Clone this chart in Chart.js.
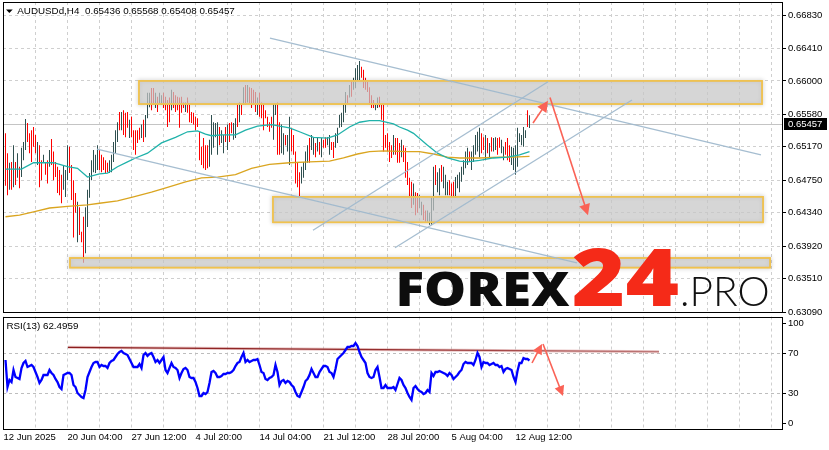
<!DOCTYPE html>
<html><head><meta charset="utf-8">
<script src="https://cdn.jsdelivr.net/npm/chart.js@4.4.1/dist/chart.umd.min.js"></script>
<style>
html,body{margin:0;padding:0;background:#fff;}
#wrap{position:relative;width:829px;height:450px;overflow:hidden;background:#fff;}
#main{position:absolute;left:0;top:0;}
#rsi{position:absolute;left:0;top:314px;}
</style></head><body>
<div id="wrap"><canvas id="main" width="829" height="316"></canvas><canvas id="rsi" width="829" height="136"></canvas></div>
<script>
// ---------------- data ----------------
const symbolName = 'AUDUSDd,H4';
const lastOHLC = [0.65436, 0.65568, 0.65408, 0.65457];
const lastPrice = 0.65457;
const rsiName = 'RSI(13)';
const rsiLast = 62.4959;

const priceTicks = [0.66830,0.66410,0.66000,0.65580,0.65170,0.64750,0.64340,0.63920,0.63510,0.63090];
const rsiTicks = [100,70,30,0];
const rsiLevels = [70,30];
const timeLabels = ['12 Jun 2025','20 Jun 04:00','27 Jun 12:00','4 Jul 20:00','14 Jul 04:00','21 Jul 12:00','28 Jul 20:00','5 Aug 04:00','12 Aug 12:00'];
const timeLabelIdx = [-1,31,63,95,127,159,191,223,255];
const gridIdx = [-1,15,31,47,63,79,95,111,127,143,159,175,191,207,223,239,255,271,287,303,319,335,351,367,383];

const barHigh = [
0.6534,0.6509,0.6497,0.6498,0.6519,0.6498,0.6509,0.6492,0.6516,0.6523,
0.6552,0.6547,0.6534,0.6538,0.6542,0.6532,0.6523,0.6519,0.6500,0.6507,
0.6497,0.6500,0.6513,0.6527,0.6511,0.6498,0.6492,0.6488,0.6482,0.6494,
0.6488,0.6519,0.6517,0.6494,0.6475,0.6459,0.6448,0.6441,0.6410,0.6429,
0.6441,0.6463,0.6484,0.6500,0.6513,0.6507,0.6519,0.6513,0.6507,0.6504,
0.6500,0.6497,0.6500,0.6507,0.6523,0.6538,0.6548,0.6561,0.6561,0.6563,
0.6560,0.6561,0.6551,0.6555,0.6538,0.6538,0.6538,0.6541,0.6545,0.6551,
0.6557,0.6585,0.6585,0.6591,0.6591,0.6585,0.6580,0.6585,0.6582,0.6585,
0.6580,0.6576,0.6579,0.6589,0.6586,0.6582,0.6580,0.6579,0.6580,0.6573,
0.6573,0.6579,0.6572,0.6561,0.6560,0.6555,0.6553,0.6536,0.6517,0.6528,
0.6519,0.6519,0.6526,0.6557,0.6548,0.6547,0.6548,0.6542,0.6538,0.6532,
0.6542,0.6545,0.6547,0.6548,0.6547,0.6553,0.6570,0.6573,0.6570,0.6592,
0.6595,0.6595,0.6592,0.6591,0.6589,0.6586,0.6579,0.6585,0.6573,0.6570,
0.6563,0.6555,0.6548,0.6555,0.6571,0.6572,0.6573,0.6548,0.6545,0.6534,
0.6532,0.6532,0.6555,0.6541,0.6532,0.6511,0.6498,0.6485,0.6492,0.6498,
0.6511,0.6519,0.6528,0.6532,0.6529,0.6522,0.6528,0.6523,0.6528,0.6526,
0.6529,0.6529,0.6532,0.6523,0.6523,0.6534,0.6541,0.6557,0.6560,0.6570,
0.6586,0.6582,0.6595,0.6601,0.6604,0.6616,0.6620,0.6625,0.6618,0.6614,
0.6604,0.6599,0.6592,0.6582,0.6576,0.6572,0.6579,0.6580,0.6570,0.6570,
0.6532,0.6534,0.6523,0.6519,0.6532,0.6528,0.6528,0.6522,0.6526,0.6519,
0.6516,0.6498,0.6478,0.6473,0.6471,0.6460,0.6459,0.6456,0.6448,0.6444,
0.6437,0.6437,0.6434,0.6453,0.6492,0.6494,0.6485,0.6490,0.6494,0.6492,
0.6482,0.6473,0.6475,0.6471,0.6473,0.6479,0.6482,0.6485,0.6492,0.6500,
0.6511,0.6516,0.6511,0.6511,0.6519,0.6532,0.6536,0.6541,0.6534,0.6529,
0.6532,0.6528,0.6522,0.6529,0.6528,0.6529,0.6528,0.6529,0.6526,0.6517,
0.6523,0.6528,0.6519,0.6517,0.6516,0.6519,0.6541,0.6534,0.6532,0.6542,
0.6538,0.6563,0.65568];
const barLow = [
0.6468,0.6456,0.6463,0.6463,0.6466,0.6469,0.6478,0.6465,0.6479,0.6500,
0.6513,0.6523,0.6509,0.6498,0.6517,0.6509,0.6494,0.6466,0.6475,0.6497,
0.6482,0.6471,0.6492,0.6494,0.6475,0.6479,0.6459,0.6456,0.6446,0.6463,
0.6454,0.6475,0.6484,0.6450,0.6403,0.6434,0.6397,0.6406,0.6397,0.6371,
0.6383,0.6416,0.6453,0.6475,0.6485,0.6484,0.6488,0.6488,0.6485,0.6488,
0.6484,0.6485,0.6484,0.6485,0.6498,0.6509,0.6523,0.6538,0.6538,0.6532,
0.6529,0.6541,0.6528,0.6529,0.6513,0.6507,0.6522,0.6526,0.6528,0.6523,
0.6529,0.6553,0.6567,0.6563,0.6570,0.6566,0.6561,0.6572,0.6570,0.6566,
0.6563,0.6542,0.6548,0.6563,0.6566,0.6561,0.6563,0.6541,0.6560,0.6566,
0.6561,0.6560,0.6548,0.6547,0.6545,0.6538,0.6542,0.6500,0.6494,0.6490,
0.6488,0.6490,0.6492,0.6507,0.6516,0.6529,0.6507,0.6519,0.6522,0.6509,
0.6523,0.6513,0.6523,0.6534,0.6526,0.6528,0.6542,0.6548,0.6557,0.6570,
0.6570,0.6573,0.6572,0.6566,0.6570,0.6561,0.6557,0.6555,0.6553,0.6538,
0.6553,0.6542,0.6536,0.6541,0.6526,0.6557,0.6507,0.6507,0.6509,0.6507,
0.6519,0.6511,0.6494,0.6511,0.6507,0.6471,0.6466,0.6454,0.6471,0.6478,
0.6488,0.6497,0.6497,0.6513,0.6507,0.6504,0.6511,0.6507,0.6504,0.6516,
0.6516,0.6519,0.6507,0.6513,0.6503,0.6516,0.6522,0.6541,0.6542,0.6548,
0.6560,0.6572,0.6579,0.6580,0.6589,0.6591,0.6601,0.6601,0.6604,0.6591,
0.6589,0.6586,0.6570,0.6566,0.6566,0.6563,0.6566,0.6567,0.6551,0.6511,
0.6516,0.6511,0.6498,0.6503,0.6507,0.6507,0.6497,0.6497,0.6504,0.6498,
0.6478,0.6469,0.6453,0.6440,0.6444,0.6431,0.6434,0.6440,0.6431,0.6425,
0.6421,0.6422,0.6419,0.6419,0.6437,0.6469,0.6460,0.6456,0.6473,0.6465,
0.6456,0.6456,0.6456,0.6453,0.6453,0.6453,0.6465,0.6460,0.6473,0.6482,
0.6490,0.6494,0.6498,0.6488,0.6498,0.6507,0.6511,0.6504,0.6509,0.6513,
0.6500,0.6509,0.6503,0.6511,0.6511,0.6513,0.6507,0.6516,0.6509,0.6500,
0.6507,0.6500,0.6498,0.6494,0.6488,0.6482,0.6492,0.6523,0.6519,0.6517,
0.6528,0.6542,0.65408];
const barUp = [
0,0,1,0,1,0,1,0,1,1, 1,0,0,0,0,0,1,0,0,1, 0,0,1,0,0,0,0,0,0,1, 1,1,0,0,0,0,1,0,0,0,
1,1,1,1,1,1,1,0,0,0, 0,0,1,1,1,1,1,0,1,0, 0,0,1,0,0,0,0,0,1,0, 1,1,1,0,0,1,0,1,1,0,
0,0,0,1,0,0,0,0,0,0, 1,0,0,0,0,0,0,0,0,0, 0,0,1,1,1,1,1,0,1,1, 0,1,0,0,1,1,0,1,0,1,
0,1,0,0,0,0,1,0,0,0, 0,0,0,0,1,1,0,0,1,1, 0,1,1,0,0,0,0,0,1,1, 1,1,0,1,1,0,1,0,1,0,
0,1,1,0,0,1,1,1,1,1, 1,0,1,0,1,1,1,1,0,0, 0,0,0,0,0,1,1,0,0,0, 0,0,0,0,1,0,0,0,1,0,
0,0,0,0,1,0,0,1,1,0, 0,1,1,1,1,0,1,1,0,1, 1,1,0,0,0,1,1,1,1,1, 1,1,0,1,1,1,1,1,0,0,
1,0,1,0,1,1,0,0,1,1, 0,0,0,1,1,1,1,1,1,1, 1,0,1];

const fastMaIdx = [0,8,14,24,31,36,41,47,51,56,61,65,71,78,85,91,96,100,103,108,115,120,126,133,137,142,147,154,161,166,172,177,182,187,194,197,201,204,211,216,221,227,231,237,244,251,257,262];
const fastMaVal = [0.6489,0.6489,0.6497,0.6497,0.6492,0.6490,0.6479,0.6483,0.6484,0.6492,0.6498,0.6503,0.6509,0.6522,0.6529,0.6536,0.6537,0.6533,0.6531,0.6532,0.6532,0.6538,0.6543,0.6545,0.6543,0.6541,0.6536,0.6529,0.6528,0.6532,0.6542,0.6548,0.6550,0.6550,0.6546,0.6542,0.6538,0.6534,0.6519,0.6509,0.6503,0.6499,0.6498,0.6500,0.6503,0.6504,0.6507,0.6511];
const slowMaIdx = [0,7,14,22,31,41,47,56,64,73,81,90,98,106,115,123,132,142,152,162,169,176,182,189,201,207,214,221,227,237,247,254,262];
const slowMaVal = [0.6429,0.6431,0.6435,0.6440,0.6442,0.6444,0.6446,0.6449,0.6454,0.6460,0.6466,0.6473,0.6478,0.6479,0.6482,0.6490,0.6495,0.6497,0.6498,0.6499,0.6503,0.6508,0.6511,0.6512,0.6511,0.6511,0.6508,0.6504,0.6503,0.6503,0.6504,0.6504,0.6505];

const rsiVal = [
63,36,43,41,53,46,45,44,55,60, 62,56,57,58,56,51,46,40,43,48, 48,48,53,50,48,44,41,36,34,48,
49,50,50,48,38,36,30,28,26,25, 33,46,51,56,60,61,61,56,58,57, 57,55,60,62,63,66,69,71,72,70,
69,68,64,60,56,56,56,59,55,68, 70,67,69,70,66,61,63,60,63,66, 53,50,55,60,56,55,53,45,50,54,
55,53,46,45,45,41,35,27,27,30, 29,31,40,51,52,50,46,46,47,49, 49,50,50,51,53,57,60,61,66,70,
61,63,61,62,63,63,64,58,51,50, 44,43,45,46,48,58,51,38,42,43, 40,42,41,38,36,31,27,26,31,36,
42,44,48,54,50,46,46,51,54,57, 57,56,51,50,46,54,64,66,68,70, 73,76,76,77,77,80,77,71,66,63,
60,50,46,45,46,53,56,46,35,35, 38,35,35,35,36,33,39,45,43,38, 35,30,26,23,35,37,34,32,31,29,
30,33,31,50,47,51,51,52,51,50, 49,47,50,48,44,46,48,51,53,59, 61,60,60,60,58,63,70,66,56,61,
60,60,58,59,60,58,58,56,57,51, 54,55,54,53,46,41,52,60,60,65, 64,64,62.5];

// support / resistance zones (bar index range, price range)
const zoneFrom = [66.75, 133.75, 32.25];
const zoneTo = [378.25, 378.75, 382.25];
const zoneTop = [0.6600, 0.6454, 0.6377];
const zoneBottom = [0.6571, 0.6422, 0.6365];
// trend lines (bar index, price)
const trendFromIdx = [132.25, 45.75, 153.75, 194.75];
const trendFromPrice = [0.6654, 0.6514, 0.6412, 0.6390];
const trendToIdx = [377.75, 285.75, 271.25, 313.25];
const trendToPrice = [0.6507, 0.6371, 0.6599, 0.6576];
// forecast arrows on price
const arrowFromIdx = [263.75, 272.25];
const arrowFromPrice = [0.6547, 0.6579];
const arrowToIdx = [271.25, 291.25];
const arrowToPrice = [0.6575, 0.6431];
// RSI trend line and arrows
const rsiLineIdx = [31.25, 326.75];
const rsiLineVal = [75.7, 71.3];
const rsiArrowFromIdx = [263.25, 268.75];
const rsiArrowFromVal = [60, 79];
const rsiArrowToIdx = [268.25, 278.75];
const rsiArrowToVal = [79, 27];

// ---------------- drawing ----------------
const FONT = "'Liberation Sans', Arial, sans-serif";
const GRID = '#cfcfcf';
const X_MIN = -1.25, X_MAX = 388.75;

function drawArrow(ctx, x1, y1, x2, y2, head, color){
  const ang = Math.atan2(y2-y1, x2-x1);
  ctx.save();
  ctx.strokeStyle = color; ctx.fillStyle = color; ctx.lineWidth = 1.6;
  ctx.beginPath(); ctx.moveTo(x1,y1);
  ctx.lineTo(x2 - Math.cos(ang)*head*0.8, y2 - Math.sin(ang)*head*0.8); ctx.stroke();
  ctx.beginPath();
  ctx.moveTo(x2,y2);
  ctx.lineTo(x2 - head*Math.cos(ang) + head*0.5*Math.sin(ang), y2 - head*Math.sin(ang) - head*0.5*Math.cos(ang));
  ctx.lineTo(x2 - head*Math.cos(ang) - head*0.5*Math.sin(ang), y2 - head*Math.sin(ang) + head*0.5*Math.cos(ang));
  ctx.closePath(); ctx.fill();
  ctx.restore();
}
function fitText(ctx, text, font, color, x0, x1, capTop, base){
  ctx.save();
  ctx.font = font; ctx.textBaseline = 'alphabetic'; ctx.textAlign = 'left';
  const m = ctx.measureText(text);
  const w = m.actualBoundingBoxRight + m.actualBoundingBoxLeft;
  const h = m.actualBoundingBoxAscent;
  ctx.translate(x0, base);
  ctx.scale((x1-x0)/w, (base-capTop)/h);
  ctx.fillStyle = color;
  ctx.fillText(text, m.actualBoundingBoxLeft, 0);
  ctx.restore();
}
function border(ctx, a){
  ctx.save(); ctx.strokeStyle = '#000'; ctx.lineWidth = 1;
  ctx.strokeRect(Math.round(a.left)+0.5, Math.round(a.top)+0.5, Math.round(a.right-a.left)-1, Math.round(a.bottom-a.top)-1);
  ctx.restore();
}
function noPad(s){ s.paddingTop = 0; s.paddingBottom = 0; s.paddingLeft = 0; s.paddingRight = 0; }

const mainDeco = {
  id: 'mainDeco',
  beforeDatasetsDraw(chart){
    const {ctx, chartArea:a, scales:{y}} = chart;
    const py = Math.round(y.getPixelForValue(lastPrice)) + 0.5;
    ctx.save(); ctx.strokeStyle = '#c4c4c4'; ctx.lineWidth = 1;
    ctx.beginPath(); ctx.moveTo(a.left, py); ctx.lineTo(a.right, py); ctx.stroke(); ctx.restore();
  },
  afterDatasetsDraw(chart){
    const {ctx, chartArea:a, scales:{x,y}} = chart;
    ctx.save();
    ctx.beginPath(); ctx.rect(a.left, a.top, a.right-a.left, a.bottom-a.top); ctx.clip();
    for (let k=0;k<zoneFrom.length;k++){
      const x1 = x.getPixelForValue(zoneFrom[k]), x2 = x.getPixelForValue(zoneTo[k]);
      const y1 = y.getPixelForValue(zoneTop[k]), y2 = y.getPixelForValue(zoneBottom[k]);
      ctx.save();
      ctx.shadowColor = 'rgba(0,0,0,0.35)'; ctx.shadowBlur = 4;
      ctx.strokeStyle = '#f0c24e'; ctx.lineWidth = 1.6;
      ctx.strokeRect(x1, y1, x2-x1, y2-y1);
      ctx.restore();
      ctx.fillStyle = 'rgba(198,198,198,0.72)';
      ctx.fillRect(x1, y1, x2-x1, y2-y1);
      ctx.strokeStyle = '#f0c24e'; ctx.lineWidth = 1.6;
      ctx.strokeRect(x1, y1, x2-x1, y2-y1);
    }
    ctx.strokeStyle = 'rgba(160,185,205,0.95)'; ctx.lineWidth = 1.3;
    for (let k=0;k<trendFromIdx.length;k++){
      ctx.beginPath();
      ctx.moveTo(x.getPixelForValue(trendFromIdx[k]), y.getPixelForValue(trendFromPrice[k]));
      ctx.lineTo(x.getPixelForValue(trendToIdx[k]), y.getPixelForValue(trendToPrice[k]));
      ctx.stroke();
    }
    for (let k=0;k<arrowFromIdx.length;k++){
      drawArrow(ctx, x.getPixelForValue(arrowFromIdx[k]), y.getPixelForValue(arrowFromPrice[k]),
        x.getPixelForValue(arrowToIdx[k]), y.getPixelForValue(arrowToPrice[k]), 11, 'rgb(250,98,86)');
    }
    ctx.restore();
    // watermark
    fitText(ctx, 'FOREX', "900 60px 'Open Sans', Lato, sans-serif", '#0d0d0d', 399, 570, 271, 306);
    fitText(ctx, '24', "800 80px 'Open Sans', Lato, sans-serif", '#f52a18', 573, 678, 248, 306);
    fitText(ctx, '.PRO', "300 40px Lato, 'Open Sans', sans-serif", '#111', 682, 768, 277, 306);
  },
  afterDraw(chart){
    const {ctx, chartArea:a, scales:{y}} = chart;
    border(ctx, a);
    // last price tag
    const py = y.getPixelForValue(lastPrice);
    ctx.save();
    ctx.fillStyle = '#000'; ctx.fillRect(a.right+1, Math.round(py)-6, 43, 12);
    ctx.fillStyle = '#fff'; ctx.font = '9.5px ' + FONT; ctx.textBaseline = 'middle'; ctx.textAlign = 'left';
    ctx.fillText(lastPrice.toFixed(5), a.right+5, Math.round(py)+0.5);
    // title
    ctx.fillStyle = '#000';
    ctx.beginPath(); ctx.moveTo(a.left+3, a.top+7.5); ctx.lineTo(a.left+9.7, a.top+7.5); ctx.lineTo(a.left+6.35, a.top+11); ctx.closePath(); ctx.fill();
    ctx.font = '9.8px ' + FONT; ctx.textBaseline = 'alphabetic';
    ctx.fillText(symbolName, a.left+14.3, a.top+12);
    ctx.fillText(lastOHLC.map(v=>v.toFixed(5)).join(' '), a.left+82, a.top+12);
    ctx.restore();
  }
};

const rsiDeco = {
  id: 'rsiDeco',
  beforeDatasetsDraw(chart){
    const {ctx, scales:{x,y}} = chart;
    const x1 = x.getPixelForValue(rsiLineIdx[0]), x2 = x.getPixelForValue(rsiLineIdx[1]);
    const y1 = y.getPixelForValue(rsiLineVal[0]), y2 = y.getPixelForValue(rsiLineVal[1]);
    ctx.save();
    ctx.strokeStyle = 'rgba(215,150,150,0.55)'; ctx.lineWidth = 3;
    ctx.beginPath(); ctx.moveTo(x1,y1); ctx.lineTo(x2,y2); ctx.stroke();
    const g = ctx.createLinearGradient(x1,0,x2,0);
    g.addColorStop(0,'rgba(140,30,30,1)'); g.addColorStop(0.6,'rgba(140,30,30,0.9)'); g.addColorStop(1,'rgba(140,30,30,0.45)');
    ctx.strokeStyle = g; ctx.lineWidth = 1.2;
    ctx.beginPath(); ctx.moveTo(x1,y1); ctx.lineTo(x2,y2); ctx.stroke();
    ctx.restore();
  },
  afterDatasetsDraw(chart){
    const {ctx, scales:{x,y}} = chart;
    for (let k=0;k<rsiArrowFromIdx.length;k++){
      drawArrow(ctx, x.getPixelForValue(rsiArrowFromIdx[k]), y.getPixelForValue(rsiArrowFromVal[k]),
        x.getPixelForValue(rsiArrowToIdx[k]), y.getPixelForValue(rsiArrowToVal[k]), 10, 'rgb(250,98,86)');
    }
  },
  afterDraw(chart){
    const {ctx, chartArea:a} = chart;
    border(ctx, a);
    ctx.save(); ctx.fillStyle = '#000'; ctx.font = '9.8px ' + FONT; ctx.textBaseline = 'alphabetic';
    ctx.fillText(rsiName + ' ' + rsiLast.toFixed(4), a.left+3.5, a.top+12);
    ctx.restore();
  }
};

const xGrid = {color: GRID, drawTicks: false, offset: false};

new Chart(document.getElementById('main'), {
  type: 'bar',
  data: { datasets: [
    { type:'line', data: fastMaIdx.map((v,k)=>({x:v, y:fastMaVal[k]})), borderColor:'#20b2aa', borderWidth:1.3, pointRadius:0, tension:0, order:1 },
    { type:'line', data: slowMaIdx.map((v,k)=>({x:v, y:slowMaVal[k]})), borderColor:'#daa520', borderWidth:1.3, pointRadius:0, tension:0, order:2 },
    { type:'bar', data: barHigh.map((h,i)=>({x:i, y:[barLow[i], h]})), backgroundColor: barUp.map(u=>u?'#2f4f4f':'#ff0000'), barThickness:1, inflateAmount:0, borderWidth:0, order:3 }
  ]},
  options: {
    responsive:false, animation:false, events:[],
    layout: { padding: {left:3, top:2, right:0, bottom:3} },
    plugins: { legend:{display:false}, tooltip:{enabled:false} },
    scales: {
      x: { type:'linear', min:X_MIN, max:X_MAX, offset:false,
           afterBuildTicks: s => { s.ticks = gridIdx.map(v=>({value:v})); },
           afterFit: s => { s.height = 0; noPad(s); },
           ticks:{display:false}, grid:xGrid, border:{display:false, dash:[3,3]} },
      y: { type:'linear', position:'right', min:0.63078, max:0.66994,
           afterBuildTicks: s => { s.ticks = priceTicks.map(v=>({value:v})); },
           afterFit: s => { s.width = 46; noPad(s); },
           ticks:{ callback: v => v.toFixed(5), font:{family:FONT, size:9.5}, color:'#000', padding:2 },
           grid:{ color:GRID, tickColor:'#000', tickLength:3 }, border:{display:false, dash:[3,3]} }
    }
  },
  plugins: [mainDeco]
});

new Chart(document.getElementById('rsi'), {
  type: 'line',
  data: { datasets: [
    { data: rsiVal.map((v,i)=>({x:i, y:v})), borderColor:'#0000ff', borderWidth:2.3, pointRadius:0, tension:0 }
  ]},
  options: {
    responsive:false, animation:false, events:[],
    layout: { padding: {left:3, top:2.5, right:0, bottom:0} },
    plugins: { legend:{display:false}, tooltip:{enabled:false} },
    scales: {
      x: { type:'linear', min:X_MIN, max:X_MAX, offset:false,
           afterBuildTicks: s => { s.ticks = gridIdx.map(v=>({value:v})); },
           afterFit: s => { s.height = 21; noPad(s); },
           ticks:{ autoSkip:false, maxRotation:0, minRotation:0, align:'start', padding:3,
                   callback: v => { const k = timeLabelIdx.indexOf(v); return k>=0 ? timeLabels[k] : ''; },
                   font:{family:FONT, size:9.5}, color:'#000' },
           grid:xGrid, border:{display:false, dash:[3,3]} },
      y: { type:'linear', position:'right', min:-6, max:106.5,
           afterBuildTicks: s => { s.ticks = rsiTicks.map(v=>({value:v})); },
           afterFit: s => { s.width = 46; noPad(s); },
           ticks:{ callback: v => String(v), font:{family:FONT, size:9.5}, color:'#000', padding:2 },
           grid:{ color: c => (c.tick && rsiLevels.includes(c.tick.value)) ? '#bdbdbd' : 'rgba(0,0,0,0)', tickColor:'#000', tickLength:3 },
           border:{display:false, dash:[3,3]} }
    }
  },
  plugins: [rsiDeco]
});
</script>
</body></html>
